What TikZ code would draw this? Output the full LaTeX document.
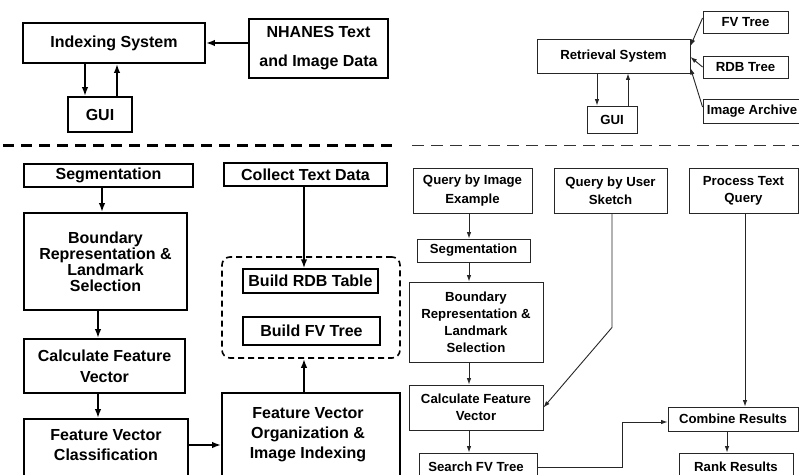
\documentclass[tikz,border=0pt]{standalone}
\usepackage{fontspec}
\setmainfont{Liberation Sans}
\usetikzlibrary{arrows.meta}
\tikzset{
  boxL/.style={draw, line width=1.8, inner sep=0, align=center, font=\bfseries\fontsize{16}{20}\selectfont},
  boxR/.style={draw=black!85, line width=0.9, inner sep=0, align=center, font=\bfseries\fontsize{13.2}{17}\selectfont},
  txtL/.style={inner sep=0, align=center, font=\bfseries\fontsize{16}{20}\selectfont},
  txtR/.style={inner sep=0, align=center, font=\bfseries\fontsize{13.2}{17}\selectfont},
  arrL/.style={line width=1.8, -{Latex[length=9,width=6.5]}},
  arrR/.style={draw=black!85, line width=0.9, -{Latex[length=6.5,width=4.5]}},
  grpbox/.style={draw, line width=1.6, dash pattern=on 6 off 4, rounded corners=8, inner sep=0}
}
\begin{document}
\begin{tikzpicture}[x=1pt,y=-1pt]
\useasboundingbox (0,0) rectangle (799,474);
\fill[white] (0,0) rectangle (799,474);
\clip (0,0) rectangle (799,474);

% ---------- top left: indexing ----------
\node[boxL, minimum width=182, minimum height=40] (idx) at (114,43) {Indexing System};
\node[boxL, minimum width=139, minimum height=59, font=\bfseries\fontsize{16}{29}\selectfont] (nhanes) at (318.5,48.5) {NHANES Text\\and Image Data};
\node[boxL, minimum width=64, minimum height=35] (gui1) at (100,114.5) {GUI};
\draw[arrL] (nhanes.west |- idx.east) -- (idx.east);
\draw[arrL] ([xshift=-15]gui1.north |- idx.south) -- ([xshift=-15]gui1.north);
\draw[arrL] ([xshift=17]gui1.north) -- ([xshift=17]gui1.north |- idx.south);
\draw[line width=3, dash pattern=on 11 off 7] (3,145) -- (392,145);

% ---------- top right: retrieval ----------
\node[boxR, minimum width=153, minimum height=34] (ret) at (613.5,56) {Retrieval System};
\node[boxR, minimum width=50, minimum height=27] (gui2) at (612,119.5) {GUI};
\node[boxR, minimum width=85, minimum height=22] (fvtree) at (745.5,22) {FV Tree};
\node[boxR, minimum width=85, minimum height=22] (rdbtree) at (745.5,67) {RDB Tree};
\node[boxR, minimum width=98, minimum height=24] (arch) at (752,111) {Image Archive};
\draw[arrR] ([xshift=-15]gui2.north |- ret.south) -- ([xshift=-15]gui2.north);
\draw[arrR] ([xshift=16]gui2.north) -- ([xshift=16]gui2.north |- ret.south);
\draw[arrR] ([yshift=4]fvtree.west) -- ([yshift=10]ret.east);
\draw[arrR] (rdbtree.west) -- ([yshift=-1]ret.east);
\draw[arrR] ([yshift=4]arch.west) -- ([yshift=-12]ret.east);
\draw[black!80, line width=1, dash pattern=on 12 off 7] (412,145) -- (799,145);

% ---------- bottom left ----------
\node[boxL, minimum width=169, minimum height=23] (seg1) at (108.5,175.5) {Segmentation};
\node[boxL, minimum width=163, minimum height=97, font=\bfseries\fontsize{16}{16}\selectfont] (bnd1) at (105.5,261.5) {Boundary\\Representation \&\\Landmark\\Selection};
\node[boxL, minimum width=161, minimum height=54, font=\bfseries\fontsize{16}{21}\selectfont] (calc1) at (104.5,366) {Calculate Feature\\Vector};
\node[boxL, minimum width=164, minimum height=81] (cls1) at (106,459.5) {};
\node[txtL] (cls1t) at (106,445) {Feature Vector\\Classification};
\node[boxL, minimum width=178, minimum height=107] (fvo) at (311,446.5) {};
\node[txtL] (fvot) at (308,435) {Feature Vector\\Organization \&\\Image Indexing};
\node[boxL, minimum width=163, minimum height=23] (col) at (305.5,174.5) {Collect Text Data};
\node[grpbox, minimum width=178, minimum height=101] (grp) at (311,307.5) {};
\node[boxL, line width=1.3, minimum width=135, minimum height=24] (rdb) at (310.5,281) {Build RDB Table};
\node[boxL, line width=1.3, minimum width=137, minimum height=28] (fvt) at (311.5,331) {Build FV Tree};

\draw[arrL] ([xshift=-6.5]seg1.south) -- ([xshift=-6.5]seg1.south |- bnd1.north);
\draw[arrL] ([xshift=-7.5]bnd1.south) -- ([xshift=-7.5]bnd1.south |- calc1.north);
\draw[arrL] ([xshift=-6.5]calc1.south) -- ([xshift=-6.5]calc1.south |- cls1.north);
\draw[arrL] (cls1t -| cls1.east) -- (cls1t -| fvo.west);
\draw[arrL] ([xshift=-1.5]col.south) -- ([xshift=-1.5]col.south |- rdb.north);
\draw[arrL] ([xshift=-7]fvo.north) -- ([xshift=-7]fvo.north |- grp.south);

% ---------- bottom right ----------
\node[boxR, minimum width=119, minimum height=45, font=\bfseries\fontsize{13.2}{19}\selectfont] (qie) at (472.5,190.5) {Query by Image\\Example};
\node[boxR, minimum width=113, minimum height=45, font=\bfseries\fontsize{13.2}{18}\selectfont] (qus) at (610.5,190.5) {Query by User\\Sketch};
\node[boxR, minimum width=109, minimum height=45, font=\bfseries\fontsize{13.2}{17}\selectfont] (ptq) at (743.5,190.5) {Process Text\\Query};
\node[boxR, minimum width=113, minimum height=23] (seg2) at (473.5,250.5) {Segmentation};
\node[boxR, minimum width=134, minimum height=80] (bnd2) at (476,322) {Boundary\\Representation \&\\Landmark\\Selection};
\node[boxR, minimum width=134, minimum height=45] (calc2) at (476,407.5) {Calculate Feature\\Vector};
\node[boxR, minimum width=118, minimum height=47] (srch) at (478,476.5) {};
\node[txtR] (srcht) at (476,467) {Search FV Tree};
\node[boxR, minimum width=130, minimum height=24] (comb) at (733,419) {Combine Results};
\node[boxR, minimum width=114, minimum height=47] (rank) at (736,476.5) {};
\node[txtR] (rankt) at (736,467) {Rank Results};

\draw[arrR] ([xshift=-3.5]qie.south) -- ([xshift=-3.5]qie.south |- seg2.north);
\draw[arrR] ([xshift=-4.5]seg2.south) -- ([xshift=-4.5]seg2.south |- bnd2.north);
\draw[arrR] ([xshift=-7]bnd2.south) -- ([xshift=-7]bnd2.south |- calc2.north);
\draw[arrR] ([xshift=-7]calc2.south) -- ([xshift=-7]calc2.south |- srch.north);
\draw[arrR] ([xshift=1.5]qus.south) -- ++(0,114) -- (calc2.east);
\draw[arrR] ([xshift=1.5]ptq.south) -- ([xshift=1.5]ptq.south |- comb.north);
\draw[arrR] ([xshift=-6]comb.south) -- ([xshift=-6]comb.south |- rank.north);
\draw[arrR] (srcht -| srch.east) -- ++(85,0) |- ([yshift=-3]comb.west);
\end{tikzpicture}
\end{document}
